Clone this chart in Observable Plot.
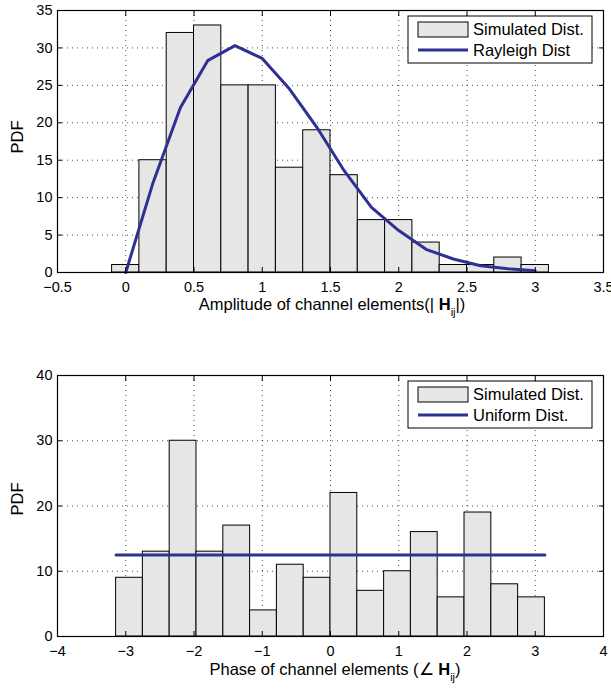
<!DOCTYPE html>
<html><head><meta charset="utf-8">
<script src="https://cdn.jsdelivr.net/npm/d3@7"></script>
<script src="https://cdn.jsdelivr.net/npm/@observablehq/plot@0.6"></script>
<style>
body{margin:0;background:#fff;font-family:"Liberation Sans",Arial,sans-serif}
#chart svg{display:block}
</style>
</head><body><div id="chart"></div>
<script>
// ---- Top panel: amplitude histogram ----
const ampCenters = [0, 0.2, 0.4, 0.6, 0.8, 1.0, 1.2, 1.4, 1.6, 1.8, 2.0, 2.2, 2.4, 2.6, 2.8, 3.0];
const ampCounts  = [1, 15, 32, 33, 25, 25, 14, 19, 13, 7, 7, 4, 1, 1, 2, 1];
const ampBinWidth = 0.2;
const rayleighX = [0, 0.2, 0.4, 0.6, 0.8, 1.0, 1.2, 1.4, 1.6, 1.8, 2.0, 2.2, 2.4, 2.6, 2.8, 3.0];
const rayleighY = [0, 12, 22, 28.3, 30.3, 28.6, 24.5, 19.4, 13.6, 8.7, 5.6, 3.1, 1.8, 0.9, 0.5, 0.25];
const ampXTicks = [-0.5, 0, 0.5, 1, 1.5, 2, 2.5, 3, 3.5];
const ampYTicks = [0, 5, 10, 15, 20, 25, 30, 35];

// ---- Bottom panel: phase histogram ----
const phaseCenters = [-2.945, -2.553, -2.160, -1.767, -1.374, -0.982, -0.589, -0.196, 0.196, 0.589, 0.982, 1.374, 1.767, 2.160, 2.553, 2.945];
const phaseCounts  = [9, 13, 30, 13, 17, 4, 11, 9, 22, 7, 10, 16, 6, 19, 8, 6];
const phaseBinWidth = 0.3927;
const uniformX = [-3.1416, 3.1416];
const uniformY = [12.5, 12.5];
const phaseXTicks = [-4, -3, -2, -1, 0, 1, 2, 3, 4];
const phaseYTicks = [0, 10, 20, 30, 40];

const BLUE = "#2e3192";
const FILL = "#e6e6e6";
const FONT = "Liberation Sans, Arial, sans-serif";
const fmt = d3.format("~g");

function panel({centers, counts, width, lx, ly, xDomain, yDomain, xTicks, yTicks, height, marginTop, marginBottom}) {
  const bars = centers.map((c, i) => ({x1: c - width / 2, x2: c + width / 2, y: counts[i]}));
  const line = lx.map((x, i) => ({x, y: ly[i]}));
  return Plot.plot({
    width: 611, height, marginLeft: 57, marginRight: 8, marginTop, marginBottom,
    style: {fontFamily: FONT, fontSize: "14.5px", color: "black", background: "white", overflow: "visible"},
    x: {domain: xDomain, ticks: xTicks, label: null},
    y: {domain: yDomain, ticks: yTicks, label: null},
    marks: [
      Plot.gridX(xTicks, {stroke: "#000", strokeOpacity: 0.7, strokeDasharray: "1,4"}),
      Plot.gridY(yTicks, {stroke: "#000", strokeOpacity: 0.7, strokeDasharray: "1,4"}),
      Plot.rectY(bars, {x1: "x1", x2: "x2", y: "y", fill: FILL, stroke: "#000", strokeWidth: 1}),
      Plot.line(line, {x: "x", y: "y", stroke: BLUE, strokeWidth: 3}),
      Plot.axisX(xTicks, {anchor: "bottom", tickSize: -5, tickPadding: 14, fontSize: 14.5, tickFormat: fmt}),
      Plot.axisX(xTicks, {anchor: "top", tickSize: -5, tickFormat: () => ""}),
      Plot.axisY(yTicks, {anchor: "left", tickSize: -5, tickPadding: 10, fontSize: 14.5, tickFormat: fmt}),
      Plot.axisY(yTicks, {anchor: "right", tickSize: -5, tickFormat: () => ""}),
      Plot.frame({stroke: "#000", strokeWidth: 1.2})
    ]
  });
}

function decorate(svgNode, {xLabelParts, xLabelX, xLabelY, pdfY, legendTop, legendItems}) {
  const svg = d3.select(svgNode);
  const t = svg.append("text").attr("x", xLabelX).attr("y", xLabelY)
    .attr("text-anchor", "middle").attr("font-family", FONT).attr("font-size", 16.5).attr("fill", "#000");
  t.append("tspan").text(xLabelParts[0]);
  t.append("tspan").attr("font-weight", "bold").text("H");
  t.append("tspan").attr("font-size", 11).attr("dy", 6).text("ij");
  t.append("tspan").attr("dy", -6).text(xLabelParts[1]);
  svg.append("text").attr("transform", `translate(23,${pdfY}) rotate(-90)`)
    .attr("text-anchor", "middle").attr("font-family", FONT).attr("font-size", 16.5).attr("fill", "#000").text("PDF");
  const g = svg.append("g").attr("transform", `translate(408,${legendTop})`);
  g.append("rect").attr("width", 184).attr("height", 47).attr("fill", "#fff").attr("stroke", "#000").attr("stroke-width", 1);
  g.append("rect").attr("x", 10).attr("y", 6).attr("width", 50).attr("height", 15).attr("fill", FILL).attr("stroke", "#000").attr("stroke-width", 1);
  g.append("line").attr("x1", 10).attr("x2", 60).attr("y1", 34).attr("y2", 34).attr("stroke", BLUE).attr("stroke-width", 3);
  g.append("text").attr("x", 65).attr("y", 19).attr("text-anchor", "start").attr("font-family", FONT).attr("font-size", 16.5).attr("fill", "#000").text(legendItems[0]);
  g.append("text").attr("x", 65).attr("y", 40).attr("text-anchor", "start").attr("font-family", FONT).attr("font-size", 16.5).attr("fill", "#000").text(legendItems[1]);
}

const topPanel = panel({centers: ampCenters, counts: ampCounts, width: ampBinWidth, lx: rayleighX, ly: rayleighY,
  xDomain: [-0.5, 3.5], yDomain: [0, 35], xTicks: ampXTicks, yTicks: ampYTicks,
  height: 330, marginTop: 10, marginBottom: 58});
decorate(topPanel, {xLabelParts: ["Amplitude of channel elements(| ", "|)"], xLabelX: 332, xLabelY: 309.5, pdfY: 137,
  legendTop: 16, legendItems: ["Simulated Dist.", "Rayleigh Dist"]});

const bottomPanel = panel({centers: phaseCenters, counts: phaseCounts, width: phaseBinWidth, lx: uniformX, ly: uniformY,
  xDomain: [-4, 4], yDomain: [0, 40], xTicks: phaseXTicks, yTicks: phaseYTicks,
  height: 360, marginTop: 45, marginBottom: 54});
decorate(bottomPanel, {xLabelParts: ["Phase of channel elements (\u2220 ", ")"], xLabelX: 335, xLabelY: 344.5, pdfY: 169,
  legendTop: 51, legendItems: ["Simulated Dist.", "Uniform Dist."]});

document.getElementById("chart").append(topPanel, bottomPanel);
</script>
</body></html>
